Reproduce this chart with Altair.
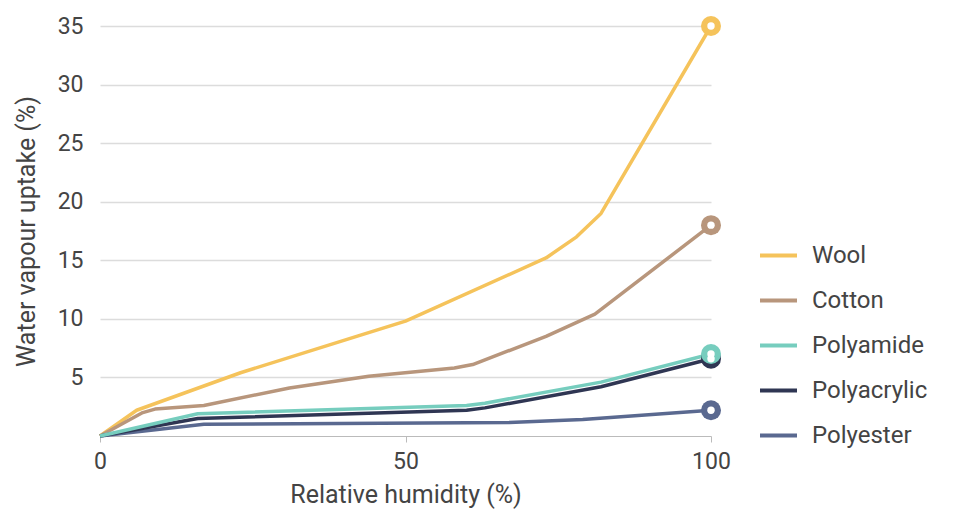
import altair as alt
import pandas as pd

series = ["Wool", "Cotton", "Polyamide", "Polyacrylic", "Polyester"]
colors = ["#F5C35B", "#B8967C", "#76CDBE", "#2F3653", "#5A6990"]

wool_x = [0, 6, 23, 42, 50, 73, 78, 82, 100]
wool_y = [0, 2.2, 5.4, 8.5, 9.8, 15.2, 17.0, 19.0, 35.0]
cotton_x = [0, 7, 9, 17, 31, 44, 58, 61, 73, 81, 100]
cotton_y = [0, 2.0, 2.3, 2.6, 4.1, 5.1, 5.8, 6.1, 8.5, 10.4, 18.0]
polyamide_x = [0, 16, 60, 63, 82, 100]
polyamide_y = [0, 1.9, 2.6, 2.8, 4.6, 7.0]
polyacrylic_x = [0, 16, 60, 63, 82, 100]
polyacrylic_y = [0, 1.5, 2.2, 2.4, 4.2, 6.6]
polyester_x = [0, 17, 67, 79, 100]
polyester_y = [0, 1.0, 1.15, 1.4, 2.2]

xs = [wool_x, cotton_x, polyamide_x, polyacrylic_x, polyester_x]
ys = [wool_y, cotton_y, polyamide_y, polyacrylic_y, polyester_y]

rows = []
for name, xx, yy in zip(series, xs, ys):
    for a, b in zip(xx, yy):
        rows.append({"rh": a, "uptake": b, "fibre": name})
df = pd.DataFrame(rows)

draw_order = ["Wool", "Cotton", "Polyester", "Polyacrylic", "Polyamide"]
cmap = dict(zip(series, colors))
ends = pd.DataFrame([
    {"rh": xs[series.index(n)][-1], "uptake": ys[series.index(n)][-1],
     "fibre": n, "col": cmap[n]} for n in draw_order
])

FONT = "Roboto"
TXT = "#444444"

xenc = alt.X("rh:Q", scale=alt.Scale(domain=[0, 100], nice=False),
             axis=alt.Axis(values=[0, 50, 100], title="Relative humidity (%)",
                           grid=False, domainColor="#bbbbbb", tickColor="#bbbbbb",
                           tickSize=6, labelFontSize=23, labelColor=TXT,
                           labelPadding=8, labelFlush=False,
                           titleFontSize=25, titleFontWeight="normal",
                           titleColor=TXT, titlePadding=9, labelFont=FONT,
                           titleFont=FONT))
yenc = alt.Y("uptake:Q", scale=alt.Scale(domain=[0, 35], nice=False),
             axis=alt.Axis(values=[5, 10, 15, 20, 25, 30, 35],
                           title="Water vapour uptake (%)", domain=False,
                           ticks=False, gridColor="#dcdcdc", gridWidth=1.5,
                           labelFontSize=23, labelColor=TXT, labelPadding=17,
                           labelFlush=False,
                           titleFontSize=25, titleFontWeight="normal",
                           titleColor=TXT, titlePadding=18, labelFont=FONT,
                           titleFont=FONT))
cenc = alt.Color("fibre:N", scale=alt.Scale(domain=series, range=colors),
                 legend=alt.Legend(title=None, orient="none", legendX=658,
                                   legendY=209, symbolType="stroke",
                                   symbolStrokeWidth=4, symbolSize=1369,
                                   labelFontSize=24, labelColor=TXT,
                                   labelFont=FONT, rowPadding=12, labelOffset=13,
                                   padding=0))

layers = []
for n in draw_order:
    layers.append(
        alt.Chart(df).transform_filter(alt.datum.fibre == n)
        .mark_line(strokeWidth=3.5, strokeJoin="round")
        .encode(x=xenc, y=yenc, color=cenc)
    )

outer = alt.Chart(ends).mark_circle(size=400, opacity=1).encode(
    x=xenc, y=yenc, color=alt.Color("col:N", scale=None))
inner = alt.Chart(ends).mark_circle(size=55, opacity=1, color="white").encode(
    x=xenc, y=yenc)

chart = alt.layer(*layers, outer, inner).properties(
    width=611, height=410,
    autosize=alt.AutoSizeParams(type="none"),
    padding={"left": 92, "top": 18, "right": 237, "bottom": 74},
).configure_view(stroke=None)

chart.save("out.html", embed_options={"renderer": "svg", "actions": False})
